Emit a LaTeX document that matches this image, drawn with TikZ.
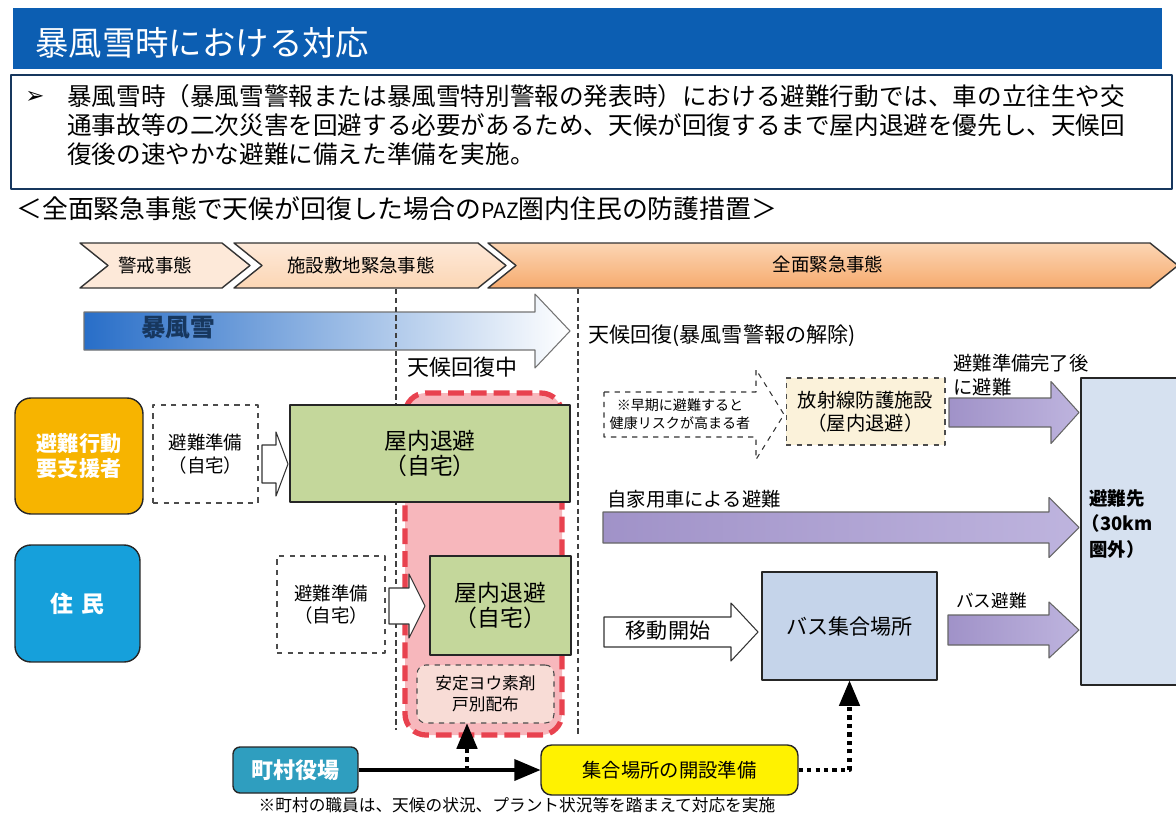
\documentclass[tikz,border=0pt]{standalone}
\usepackage{fontspec}
\setmainfont{Noto Sans CJK JP}
\newfontfamily\symfont{DejaVu Sans}
\usetikzlibrary{arrows}

\definecolor{titleblue}{RGB}{12,94,178}
\definecolor{navy}{RGB}{23,55,94}
\definecolor{peach}{RGB}{253,233,217}
\definecolor{orangelt}{RGB}{252,214,180}
\definecolor{orangedk}{RGB}{246,170,110}
\definecolor{stormblue}{RGB}{40,110,200}
\definecolor{vulnorange}{RGB}{247,180,0}
\definecolor{resblue}{RGB}{22,160,219}
\definecolor{shgreen}{RGB}{196,215,155}
\definecolor{pinkfill}{RGB}{246,170,176}
\definecolor{redline}{RGB}{232,66,79}
\definecolor{safepink}{RGB}{248,220,214}
\definecolor{beige}{RGB}{251,242,218}
\definecolor{purpdark}{RGB}{160,146,200}
\definecolor{purplight}{RGB}{190,180,222}
\definecolor{busblue}{RGB}{197,212,234}
\definecolor{destblue}{RGB}{214,225,240}
\definecolor{townteal}{RGB}{47,158,191}

% x0, tip x, centre y, body half, head half, head length
\newcommand{\blkarrow}[7][]{\path[#1] (#2,{#4-#5}) -- ({#3-#7},{#4-#5}) -- ({#3-#7},{#4-#6}) -- (#3,#4) -- ({#3-#7},{#4+#6}) -- ({#3-#7},{#4+#5}) -- (#2,{#4+#5}) -- cycle;}
% phase chevrons
\newcommand{\chevron}[3][]{\path[#1] (#2,243) -- (#3,243) -- ({#3+28},265.5) -- (#3,288) -- (#2,288) -- ({#2+28},265.5) -- cycle;}

\begin{document}
\begin{tikzpicture}[x=0.02cm,y=-0.02cm,>=triangle 45,line join=round,
	box/.style={draw=black!85,line width=0.8pt,inner sep=0pt,align=center},
	dbox/.style={box,dashed,draw=black!70,line width=0.6pt},
	greenbox/.style={box,fill=shgreen,font=\fontsize{13}{14.5}\selectfont},
	harr/.style={draw=black!80,fill=white,line width=0.6pt},
	parr/.style={draw=black!60,line width=0.6pt,left color=purpdark,right color=purplight},
	dotarr/.style={line width=2.4pt,dash pattern=on 2.4pt off 2.4pt,->},
	vline/.style={dash pattern=on 3pt off 2pt,line width=0.6pt,draw=black!75},
	phase/.style={font=\fontsize{10.5}{12}\selectfont}]
	\useasboundingbox (0,0) rectangle (1176,825);

	% header
	\fill[titleblue] (13,8) rectangle (1162,69);
	\node[anchor=west,text=white,inner sep=0pt,font=\fontsize{19}{22}\selectfont] (title) at (35,43) {暴風雪時における対応};
	\draw[navy,line width=1.3pt,fill=white] (11,75) rectangle (1172,189);
	\node[inner sep=0pt,font=\symfont\bfseries\fontsize{13}{15}\selectfont] (bullet) at (35,97) {➢};
	\node[anchor=north west,inner sep=0pt,align=left,font=\fontsize{14}{16.4}\selectfont] (summary) at (67,84)
		{暴風雪時（暴風雪警報または暴風雪特別警報の発表時）における避難行動では、車の立往生や交\\
		 通事故等の二次災害を回避する必要があるため、天候が回復するまで屋内退避を優先し、天候回\\
		 復後の速やかな避難に備えた準備を実施。};
	\node[anchor=west,inner sep=0pt,font=\fontsize{14.7}{16}\selectfont] (subtitle) at (16,209)
		{＜全面緊急事態で天候が回復した場合の{\fontsize{12}{13}\selectfont PAZ}圏内住民の防護措置＞};

	% phases
	\chevron[draw=black!80,line width=0.8pt,fill=peach]{80}{222}
	\chevron[draw=black!80,line width=0.8pt,top color=peach,bottom color=orangelt]{234}{478}
	\chevron[draw=black!80,line width=0.8pt,top color=orangelt,bottom color=orangedk]{488}{1150}
	\node[phase] (alert) at (155,265) {警戒事態};
	\node[phase] (site) at (361,265) {施設敷地緊急事態};
	\node[phase] (general) at (828,264) {全面緊急事態};

	% storm
	\blkarrow[draw=black!55,line width=0.6pt,left color=stormblue,middle color=stormblue!35,right color=white]{84}{570}{331}{19}{37}{35}
	\node[font=\bfseries\fontsize{14}{16}\selectfont,text=navy] (storm) at (178,328) {暴風雪};
	\node[anchor=west,inner sep=0pt,font=\fontsize{12}{14}\selectfont] (clear) at (588,336) {天候回復(暴風雪警報の解除)};
	\node[anchor=west,inner sep=0pt,font=\fontsize{12.5}{14}\selectfont] (clearing) at (407,367) {天候回復中};

	% shelter period
	\fill[pinkfill,opacity=0.85,rounded corners=12pt] (405,393) rectangle (562,735);
	\draw[redline,line width=3pt,dash pattern=on 9pt off 4pt,rounded corners=12pt] (405,393) rectangle (562,735);
	\draw[vline] (396,289) -- (396,730);
	\draw[vline] (578,289) -- (578,735);

	% groups
	\node[box,rounded corners=9pt,fill=vulnorange,text=white,minimum width=2.56cm,minimum height=2.32cm,font=\bfseries\fontsize{12}{14}\selectfont] (vuln) at (79,456) {避難行動\\要支援者};
	\node[box,rounded corners=9pt,fill=resblue,text=white,minimum width=2.5cm,minimum height=2.34cm,font=\bfseries\fontsize{13}{15}\selectfont] (res) at (77.5,603.5) {住\,\,民};

	\node[dbox,fill=white,minimum width=2.1cm,minimum height=1.96cm,font=\fontsize{10.5}{13}\selectfont] (prep1) at (205.5,454) {避難準備\\（自宅）};
	\node[greenbox,minimum width=5.6cm,minimum height=1.94cm] (shelter1) at (430,453.5) {屋内退避\\（自宅）};
	\blkarrow[harr]{262}{288}{464}{19}{32}{12}
	\node[dbox,fill=white,minimum width=2.16cm,minimum height=1.94cm,font=\fontsize{10.5}{13}\selectfont] (prep2) at (331,604.5) {避難準備\\（自宅）};
	\node[greenbox,minimum width=2.82cm,minimum height=1.98cm] (shelter2) at (500.5,605.5) {屋内退避\\（自宅）};
	\blkarrow[harr]{389}{425}{606}{18}{32}{16}
	\node[dbox,fill=safepink,rounded corners=5pt,minimum width=2.74cm,minimum height=1.16cm,font=\fontsize{9.5}{12}\selectfont] (iodine) at (485.5,694) {安定ヨウ素剤\\戸別配布};

	% after recovery
	\blkarrow[harr,dashed]{604}{784}{414.5}{22.5}{45}{28}
	\node[align=center,inner sep=0pt,font=\fontsize{8}{10.5}\selectfont] (risk) at (680,414) {※早期に避難すると\\健康リスクが高まる者};
	\node[dbox,fill=beige,minimum width=3.18cm,minimum height=1.34cm,font=\fontsize{11}{13}\selectfont] (facility) at (865.5,411.5) {放射線防護施設\\（屋内退避）};
	\blkarrow[parr]{949}{1079}{412.5}{14.5}{31}{28}
	\node[anchor=west,inner sep=0pt,align=left,font=\fontsize{11}{13.5}\selectfont] (afterprep) at (953,375) {避難準備完了後\\に避難};

	\node[anchor=west,inner sep=0pt,font=\fontsize{11}{13}\selectfont] (car) at (607,499) {自家用車による避難};
	\blkarrow[parr]{603}{1079}{527.5}{15.5}{30}{30}

	\blkarrow[harr]{604}{758}{632}{15}{29}{27}
	\node[font=\fontsize{12}{14}\selectfont] (move) at (668,631) {移動開始};
	\node[box,fill=busblue,minimum width=3.5cm,minimum height=2.16cm,font=\fontsize{12}{14}\selectfont] (bus) at (849.5,626) {バス集合場所};
	\blkarrow[parr]{948}{1079}{630}{15}{28}{30}
	\node[anchor=west,inner sep=0pt,font=\fontsize{10}{12}\selectfont] (buslbl) at (956,601) {バス避難};

	\node[box,fill=destblue,minimum width=1.98cm,minimum height=6.14cm] (dest) at (1130.5,531.5) {};
	\node[align=center,inner sep=0pt,font=\bfseries\fontsize{10.5}{14.5}\selectfont] (destlbl) at (1117,524) {避難先\\（30km\\圏外）};

	% town office
	\node[box,rounded corners=4pt,fill=townteal,text=white,minimum width=2.5cm,minimum height=0.92cm,font=\bfseries\fontsize{12.5}{14}\selectfont] (town) at (295.5,770) {町村役場};
	\node[box,rounded corners=6pt,fill=yellow,minimum width=5.14cm,minimum height=1.0cm,font=\fontsize{11}{13}\selectfont] (gather) at (669.5,770) {集合場所の開設準備};
	\draw[->,line width=2.5pt] (town) -- (gather);
	\coordinate (tap) at (467,770);
	\draw[dotarr] (tap) -- (tap |- iodine.south);
	\draw[dotarr] (gather.east) -| (bus.south);
	\node[inner sep=0pt,font=\fontsize{9.5}{11}\selectfont] (note) at (517,805) {※町村の職員は、天候の状況、プラント状況等を踏まえて対応を実施};
\end{tikzpicture}
\end{document}
